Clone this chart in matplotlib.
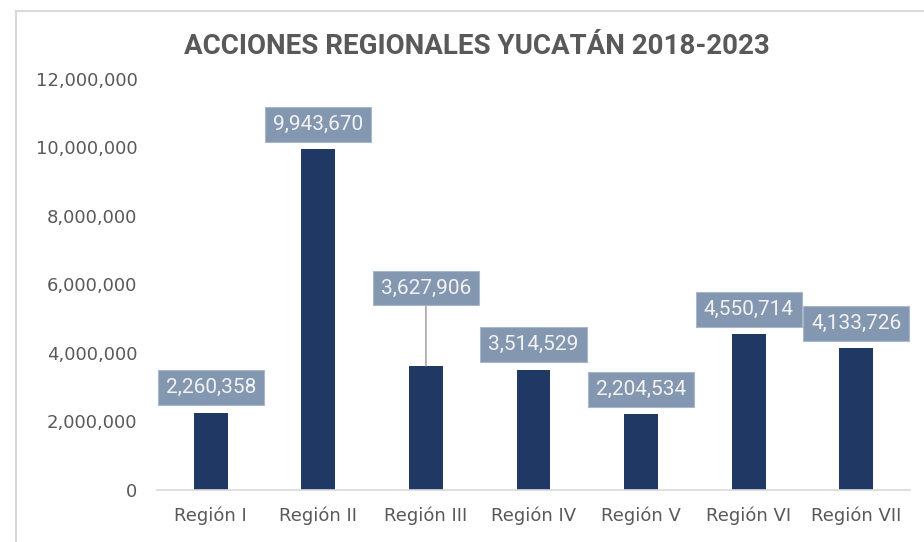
import matplotlib
matplotlib.use("Agg")
import matplotlib.pyplot as plt
from matplotlib.lines import Line2D
from matplotlib.ticker import FuncFormatter

categories = ["Región I", "Región II", "Región III", "Región IV", "Región V", "Región VI", "Región VII"]
values = [2260358, 9943670, 3627906, 3514529, 2204534, 4550714, 4133726]
title = "ACCIONES REGIONALES YUCATÁN 2018-2023"

W, H = 924, 542
fig = plt.figure(figsize=(W / 100, H / 100), dpi=100)
ax = fig.add_axes([157 / W, 1 - 490 / H, (910 - 157) / W, (490 - 79) / H])

x = list(range(len(categories)))
ax.bar(x, values, width=0.316, color="#203864", zorder=2)
ax.set_xlim(-0.5, len(categories) - 0.5)
ax.set_ylim(0, 12000000)
ax.set_yticks(range(0, 12000001, 2000000))
ax.yaxis.set_major_formatter(FuncFormatter(lambda v, p: f"{int(v):,}"))
ax.set_xticks(x)
ax.set_xticklabels(categories)

for s in ["top", "right", "left"]:
    ax.spines[s].set_visible(False)
ax.spines["bottom"].set_color("#d9d9d9")
ax.spines["bottom"].set_linewidth(1.2)
ax.tick_params(axis="both", length=0, colors="#595959", labelsize=13)
ax.tick_params(axis="y", pad=14)
ax.tick_params(axis="x", pad=12)

offsets = [18, 18, 56, 18, 18, 18, 18]
for xi, v, off in zip(x, values, offsets):
    arrow = None
    if off > 30:
        arrow = dict(arrowstyle="-", color="#a6a6a6", lw=1.2, shrinkA=0, shrinkB=0)
    ax.annotate(f"{v:,}", xy=(xi, v), xytext=(0, off), textcoords="offset points",
                ha="center", va="center", fontsize=15, family="Roboto",
                color="#f2f2f2",
                bbox=dict(boxstyle="square,pad=0.38", facecolor="#8497b0", edgecolor="#a9b7ca", lw=0.8),
                arrowprops=arrow, zorder=3)

fig.text(477 / W, 1 - 47 / H, title, ha="center", va="center", fontsize=20,
         fontweight="bold", family="Roboto", color="#595959")

fig.add_artist(Line2D([15.5 / W, 15.5 / W], [0, 1 - 10.5 / H], transform=fig.transFigure,
                      color="#d9d9d9", lw=1.5))
fig.add_artist(Line2D([15.5 / W, 1], [1 - 10.5 / H, 1 - 10.5 / H], transform=fig.transFigure,
                      color="#d9d9d9", lw=1.5))

fig.savefig("out.png", dpi=100)
